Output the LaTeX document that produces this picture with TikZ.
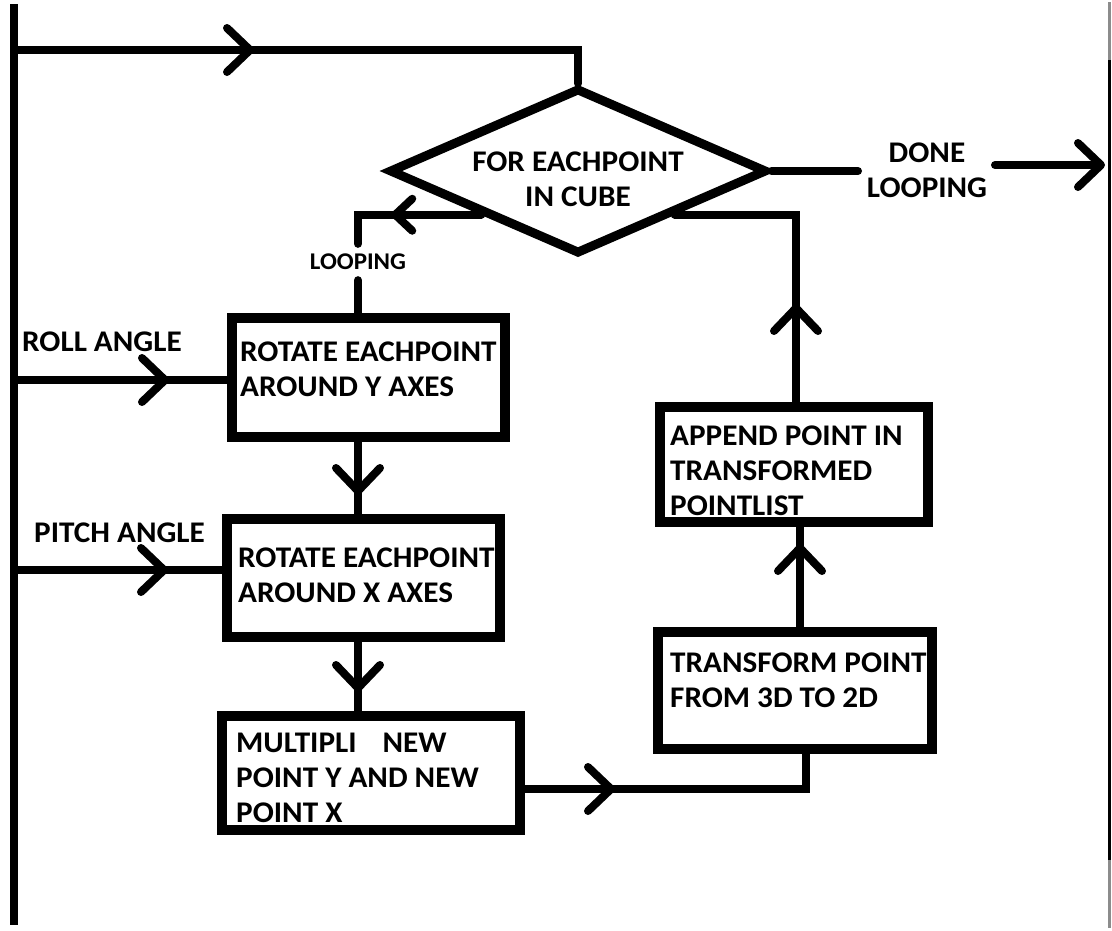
\documentclass[tikz,border=0pt]{standalone}
\usepackage{fontspec}
\setmainfont{Carlito}[FakeStretch=1.04]
\usetikzlibrary{arrows.meta,decorations.markings,shapes.geometric}
\begin{document}
\begin{tikzpicture}[x=1pt,y=-1pt,
  >={Straight Barb[length=23pt,width=44pt,round]},
  conn/.style={line width=8pt,line cap=round,line join=miter},
  chev/.style={postaction={decorate},
    decoration={markings,mark=at position #1 with {\arrow{>}}}},
  smallchev/.style={postaction={decorate},
    decoration={markings,mark=at position #1 with {\arrow{Straight Barb[length=17pt,width=32pt,round]}}}},
  stepbox/.style={draw,rectangle,line width=10pt,inner sep=0pt},
  txt/.style={font=\fontsize{30}{35}\selectfont\bfseries,align=left,inner sep=0pt,anchor=north west},
  smalltxt/.style={font=\fontsize{24}{28}\selectfont\bfseries,inner xsep=2pt,inner ysep=10pt},
]
% canvas
\fill[white] (0,0) rectangle (1112,930);
\useasboundingbox (0,0) rectangle (1112,930);

% side rails
\coordinate (busTop) at (14,4);
\coordinate (busBot) at (14,925);
\draw[line width=8pt] (busTop) -- (busBot);
\coordinate (railTop) at (1109,2);
\coordinate (railBot) at (1109,928);
\draw[line width=3pt,black!45] (railTop) -- (railBot);
\coordinate (railA) at (1109,60);
\coordinate (railB) at (1109,860);
\draw[line width=3pt] (railA) -- (railB);

% decision
\node[draw,diamond,line width=9pt,minimum width=378pt,minimum height=166pt,inner sep=0pt] (dia) at (578,171) {};
\node[txt,anchor=center,align=center] (diat) at (578,179) {FOR EACHPOINT\\IN CUBE};

% process boxes
\node[stepbox,minimum width=273pt,minimum height=119pt] (b1) at (368.5,377.5) {};
\node[stepbox,minimum width=273pt,minimum height=118pt] (b2) at (363.5,578) {};
\node[stepbox,minimum width=298pt,minimum height=114pt] (b3) at (371,773) {};
\node[stepbox,minimum width=274pt,minimum height=117pt] (b4) at (795,690.5) {};
\node[stepbox,minimum width=268pt,minimum height=115pt] (b5) at (794,464.5) {};

\node[txt] (b1t) at (240,342) {ROTATE EACHPOINT\\AROUND Y AXES};
\node[txt] (b2t) at (238,548) {ROTATE EACHPOINT\\AROUND X AXES};
\node[txt] (b3t) at (236,733) {MULTIPLI\hspace{26pt}NEW\\POINT Y AND NEW\\POINT X};
\node[txt] (b4t) at (670,653) {TRANSFORM POINT\\FROM 3D TO 2D};
\node[txt] (b5t) at (670,426) {APPEND POINT IN\\TRANSFORMED\\POINTLIST};

% side labels
\node[txt] (roll) at (22,332) {ROLL ANGLE};
\node[txt] (pitch) at (34,523) {PITCH ANGLE};
\node[txt,anchor=center,align=center] (done) at (927,170) {DONE\\LOOPING};
\node[smalltxt] (loopt) at (358,262) {LOOPING};

% routing points
\coordinate (t0) at (14,50);
\coordinate (t1) at (578,50);
\coordinate (vx) at (358,0);
\coordinate (ux) at (796,0);
\coordinate (wx) at (800,0);
\coordinate (c34) at (806,789);
\coordinate (r0) at (14,380);
\coordinate (p0) at (14,570);
\coordinate (d1) at (858,171);
\coordinate (d2) at (995,165);
\coordinate (d3) at (1105,165);

% loop entry from the bus
\draw[conn,chev=240pt] (t0) -- (t1) -- (dia.north);

% done branch
\draw[conn] (dia.east) -- (d1);
\draw[conn,->] (d2) -- (d3);

% looping branch
\draw[conn,smallchev=90pt] (dia.south west) -- (dia.south west -| vx) -- (loopt.north);
\draw[conn] (loopt.south) -- (loopt.south |- b1.north);

% angle inputs
\draw[conn,chev=155pt] (r0) -- (r0 -| b1.west);
\draw[conn,chev=154pt] (p0) -- (p0 -| b2.west);

% main chain
\draw[conn,chev=53pt] (b1.south -| vx) -- (b2.north -| vx);
\draw[conn,chev=50pt] (b2.south -| vx) -- (b3.north -| vx);
\draw[conn,chev=90pt] (b3.east |- c34) -- (c34) -- (b4.south -| c34);
\draw[conn,chev=83pt] (b4.north -| wx) -- (b5.south -| wx);
\draw[conn,chev=98pt] (b5.north -| ux) -- (dia.south east -| ux) -- (dia.south east);
\end{tikzpicture}
\end{document}
